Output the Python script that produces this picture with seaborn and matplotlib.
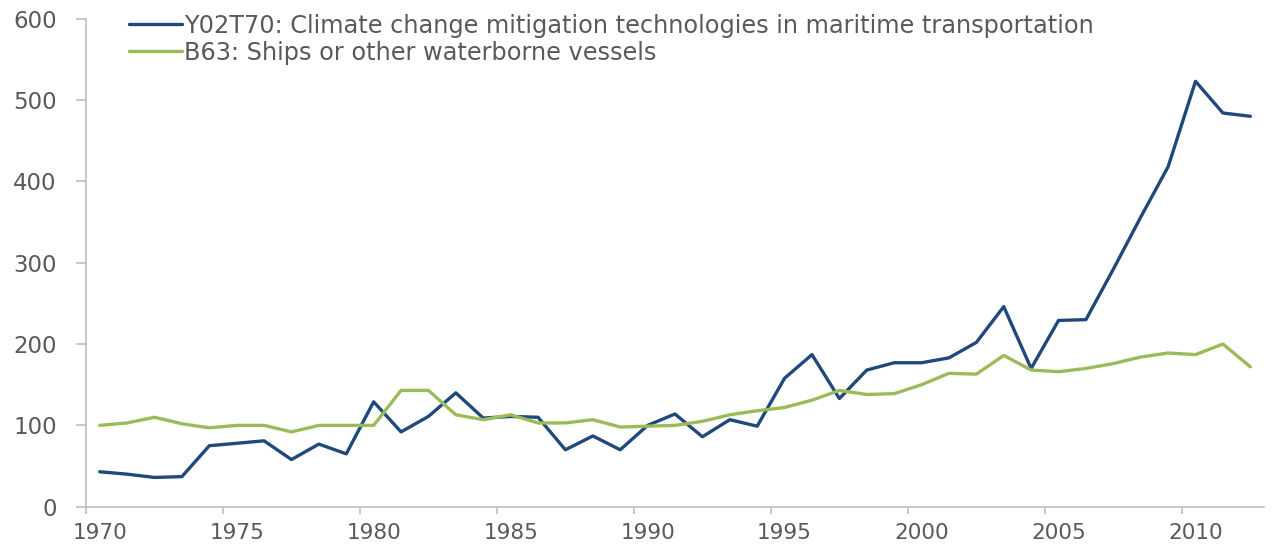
import pandas as pd
import matplotlib.pyplot as plt
import matplotlib.ticker as mticker
import seaborn as sns
import numpy as np

years = list(range(1970, 2013))

y02t70 = [43, 40, 36, 37, 75, 78, 81, 58, 77, 65,
          129, 92, 111, 140, 109, 111, 110, 70, 87, 70,
          100, 114, 86, 107, 99, 158, 187, 133, 168, 177,
          177, 183, 202, 246, 170, 229, 230, 292, 356, 418,
          523, 484, 480]

b63 = [100, 103, 110, 102, 97, 100, 100, 92, 100, 100,
       100, 143, 143, 113, 107, 113, 103, 103, 107, 98,
       99, 100, 105, 113, 118, 122, 131, 143, 138, 139,
       150, 164, 163, 186, 168, 166, 170, 176, 184, 189,
       187, 200, 172]

label_blue = "Y02T70: Climate change mitigation technologies in maritime transportation"
label_green = "B63: Ships or other waterborne vessels"

df = pd.DataFrame({
    "Year": years * 2,
    "Count": y02t70 + b63,
    "Series": [label_blue] * len(years) + [label_green] * len(years),
})

sns.set_style("white")
plt.rcParams["font.family"] = ["DejaVu Sans"]

fig = plt.figure(figsize=(12.76, 5.49), dpi=100)
ax = fig.add_axes([0.0674, 0.077, 0.9232, 0.889])

sns.lineplot(data=df, x="Year", y="Count", hue="Series",
             palette={label_blue: "#1F497D", label_green: "#9BBB59"},
             linewidth=2.4, ax=ax)

grey = "#BFBFBF"
txt = "#595959"

# category style axis: ticks at boundaries, labels at centres
ax.set_xlim(1969.5, 2012.5)
ax.set_ylim(0, 600)
ax.xaxis.set_major_locator(mticker.FixedLocator(np.arange(1969.5, 2012, 5)))
ax.xaxis.set_major_formatter(mticker.NullFormatter())
ax.xaxis.set_minor_locator(mticker.FixedLocator(np.arange(1970, 2013, 5)))
ax.xaxis.set_minor_formatter(mticker.FuncFormatter(lambda v, p: f"{int(round(v))}"))
ax.set_yticks(np.arange(0, 601, 100))

ax.tick_params(axis="x", which="major", length=5, width=1.2, color=grey, direction="out", bottom=True)
ax.tick_params(axis="x", which="minor", length=0, labelsize=15.5, labelcolor=txt, pad=12)
ax.tick_params(axis="y", length=7, width=1.2, color=grey, direction="out", left=True,
               labelsize=16.5, labelcolor=txt, pad=14)

for s in ["top", "right"]:
    ax.spines[s].set_visible(False)
for s in ["left", "bottom"]:
    ax.spines[s].set_color(grey)
    ax.spines[s].set_linewidth(1.2)

ax.set_xlabel("")
ax.set_ylabel("")

handles, labels = ax.get_legend_handles_labels()
leg = ax.legend(handles, labels, loc="upper left", bbox_to_anchor=(0.0915, 0.997),
                bbox_transform=fig.transFigure, frameon=False, fontsize=17.3,
                handlelength=2.2, handletextpad=0.1, labelspacing=0.13, borderpad=0)
for t in leg.get_texts():
    t.set_color(txt)
for h in leg.get_lines():
    h.set_linewidth(2.4)

fig.savefig("out.png", dpi=100)
